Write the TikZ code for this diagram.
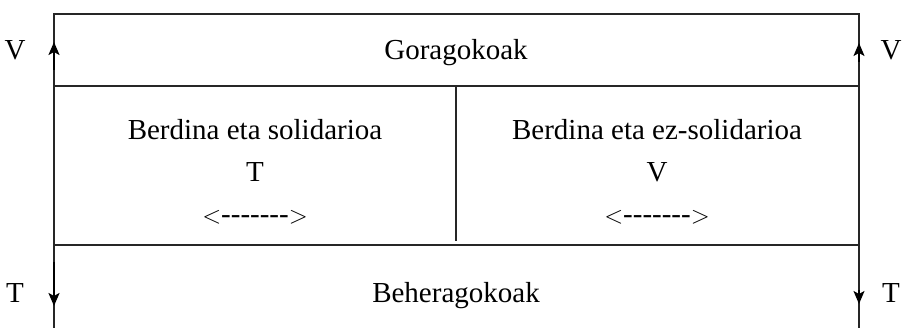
\documentclass[tikz,border=0pt]{standalone}
\usepackage{fontspec}
\setmainfont{Liberation Serif}
\usetikzlibrary{arrows.meta}
\begin{document}
\begin{tikzpicture}[x=1pt,y=-1pt,
  lbl/.style={inner sep=0pt,anchor=base,font=\fontsize{29}{34}\selectfont},
  rule/.style={line width=1.4pt,black!85},
  vrow/.style={line width=2.2pt,-{Stealth[length=13pt,width=11pt,inset=3pt]}}]
\useasboundingbox (0,0) rectangle (905,328);
% frame
\coordinate (tl) at (54,14);
\coordinate (tr) at (859,14);
\coordinate (bl) at (54,328);
\coordinate (br) at (859,328);
\coordinate (ml1) at (54,86);
\coordinate (mr1) at (859,86);
\coordinate (ml2) at (54,245);
\coordinate (mr2) at (859,245);
\coordinate (dt) at (456,86);
\coordinate (db) at (456,241);
\draw[rule] (bl) -- (tl) -- (tr) -- (br);
\draw[rule] (ml1) -- (mr1);
\draw[rule] (ml2) -- (mr2);
\draw[rule] (dt) -- (db);
% arrows
\coordinate (a1s) at (54,70); \coordinate (a1e) at (54,42);
\coordinate (a2s) at (859,62); \coordinate (a2e) at (859,43);
\coordinate (a3s) at (54,262); \coordinate (a3e) at (54,306);
\coordinate (a4s) at (859,290); \coordinate (a4e) at (859,304);
\draw[vrow] (a1s) -- (a1e);
\draw[vrow,line width=1.6pt] (a2s) -- (a2e);
\draw[vrow] (a3s) -- (a3e);
\draw[vrow,line width=1.6pt] (a4s) -- (a4e);
% texts
\node[lbl] (vl) at (15,60) {V};
\node[lbl] (vr) at (891,60) {V};
\node[lbl] (tl2) at (15,303) {T};
\node[lbl] (tr2) at (891,303) {T};
\node[lbl] (gora) at (456,60) {Goragokoak};
\node[lbl] (behe) at (456,303) {Beheragokoak};
\node[lbl] (bs) at (255,140) {Berdina eta solidarioa};
\node[lbl] (bez) at (657,140) {Berdina eta ez-solidarioa};
\node[lbl] (t) at (255,182) {T};
\node[lbl] (v) at (657,182) {V};
\node[lbl] (d1) at (255,224) {$<$-{}-{}-{}-{}-{}-{}-$>$};
\node[lbl] (d2) at (657,224) {$<$-{}-{}-{}-{}-{}-{}-$>$};
\end{tikzpicture}
\end{document}
